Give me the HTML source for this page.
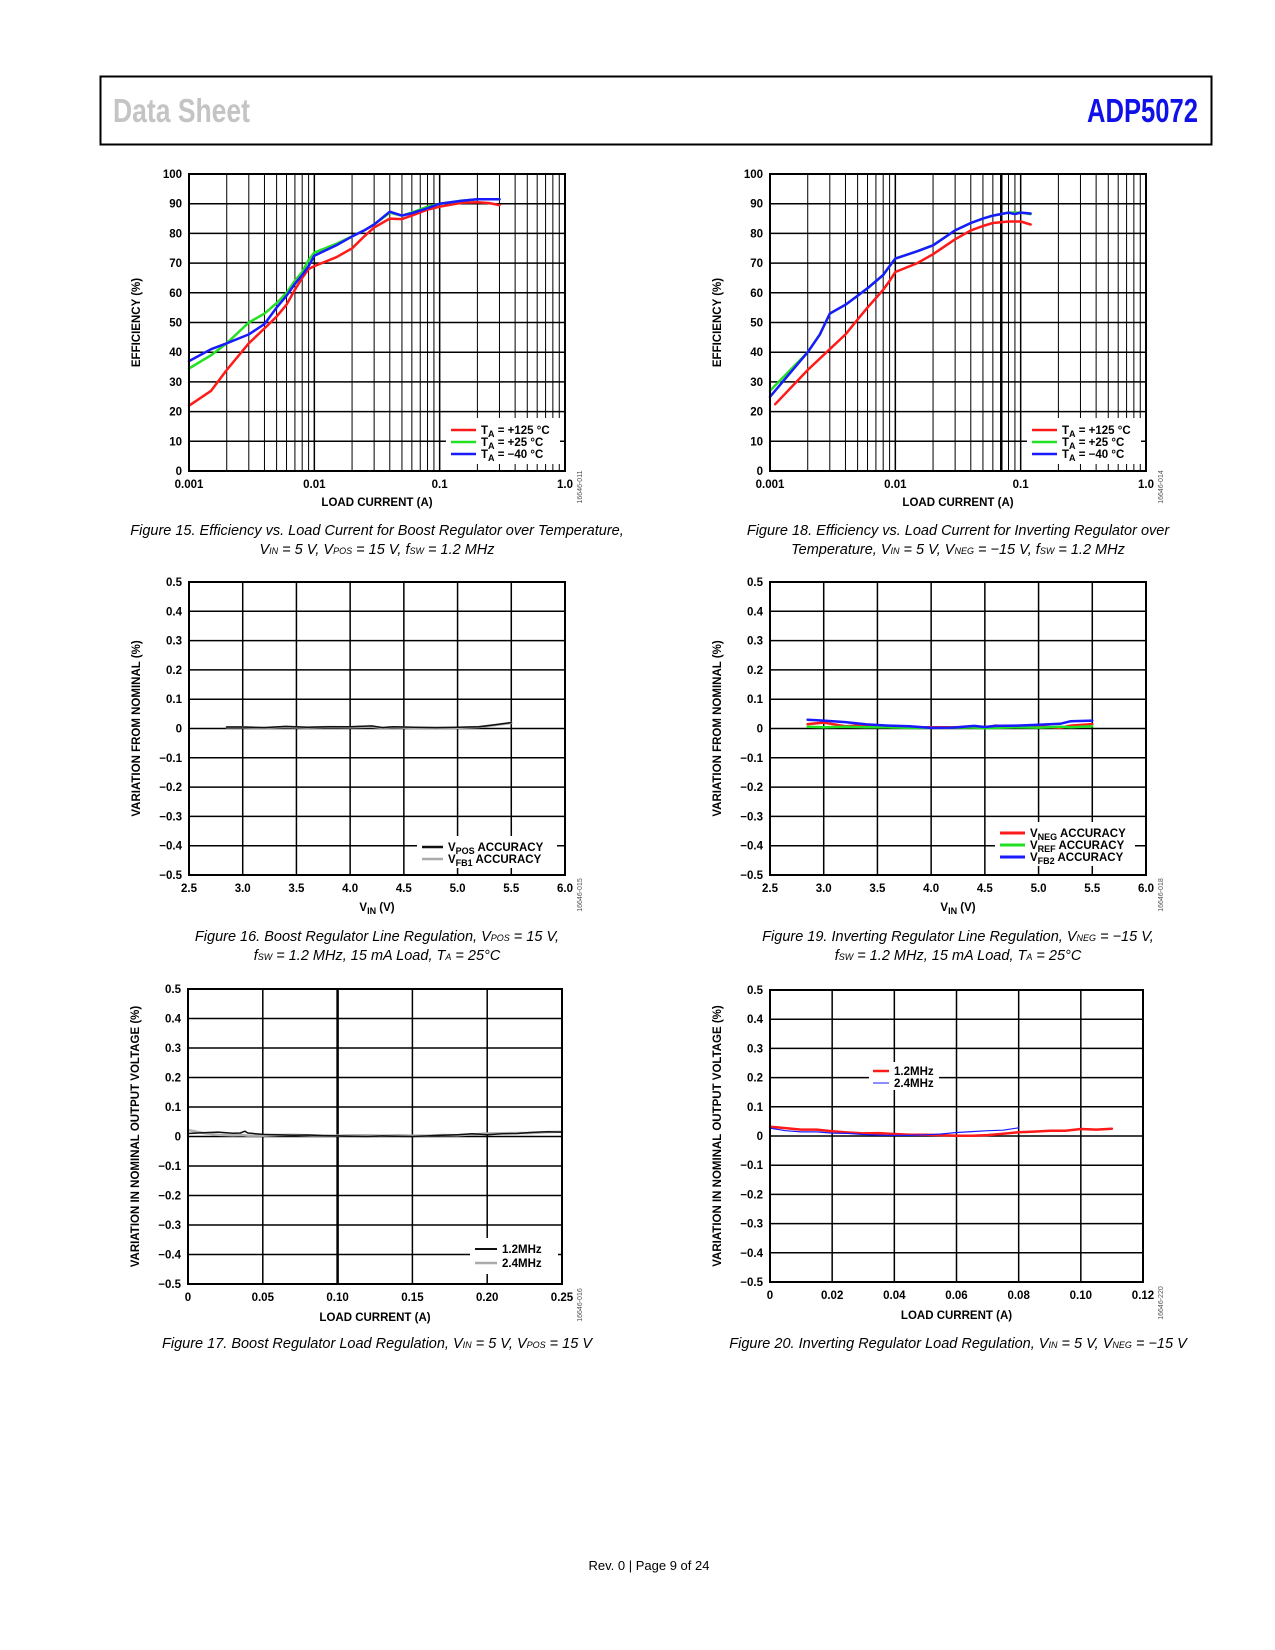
<!DOCTYPE html>
<html><head><meta charset="utf-8">
<style>
html,body{margin:0;padding:0;background:#fff;}
svg{display:block;}
text{font-family:"Liberation Sans",sans-serif;}
.t{font-weight:bold;font-size:11.5px;fill:#000;}
.cap{font-style:italic;font-size:14.5px;fill:#000;}
</style></head>
<body>
<svg id="page" xmlns="http://www.w3.org/2000/svg" width="1275" height="1650" viewBox="0 0 1275 1650">
<rect x="100.5" y="76.5" width="1111" height="68" fill="none" stroke="#000" stroke-width="2"/>
<text x="113" y="122" font-family="'Liberation Sans Narrow','Liberation Sans',sans-serif" font-weight="bold" font-size="33" fill="#c4c4c4" textLength="137" lengthAdjust="spacingAndGlyphs">Data Sheet</text>
<text x="1087" y="122" font-family="'Liberation Sans Narrow','Liberation Sans',sans-serif" font-weight="bold" font-size="33" fill="#1010e8" textLength="111" lengthAdjust="spacingAndGlyphs">ADP5072</text>

<text class="cap" x="377" y="535" text-anchor="middle">Figure 15. Efficiency vs. Load Current for Boost Regulator over Temperature,</text>
<text class="cap" x="377" y="554" text-anchor="middle">V<tspan font-size="9">IN</tspan> = 5 V, V<tspan font-size="9">POS</tspan> = 15 V, f<tspan font-size="9">SW</tspan> = 1.2 MHz</text>
<text class="cap" x="958" y="535" text-anchor="middle">Figure 18. Efficiency vs. Load Current for Inverting Regulator over</text>
<text class="cap" x="958" y="554" text-anchor="middle">Temperature, V<tspan font-size="9">IN</tspan> = 5 V, V<tspan font-size="9">NEG</tspan> = −15 V, f<tspan font-size="9">SW</tspan> = 1.2 MHz</text>
<text class="cap" x="377" y="941" text-anchor="middle">Figure 16. Boost Regulator Line Regulation, V<tspan font-size="9">POS</tspan> = 15 V,</text>
<text class="cap" x="377" y="960" text-anchor="middle">f<tspan font-size="9">SW</tspan> = 1.2 MHz, 15 mA Load, T<tspan font-size="9">A</tspan> = 25°C</text>
<text class="cap" x="958" y="941" text-anchor="middle">Figure 19. Inverting Regulator Line Regulation, V<tspan font-size="9">NEG</tspan> = −15 V,</text>
<text class="cap" x="958" y="960" text-anchor="middle">f<tspan font-size="9">SW</tspan> = 1.2 MHz, 15 mA Load, T<tspan font-size="9">A</tspan> = 25°C</text>
<text class="cap" x="377" y="1348" text-anchor="middle">Figure 17. Boost Regulator Load Regulation, V<tspan font-size="9">IN</tspan> = 5 V, V<tspan font-size="9">POS</tspan> = 15 V</text>
<text class="cap" x="958" y="1348" text-anchor="middle">Figure 20. Inverting Regulator Load Regulation, V<tspan font-size="9">IN</tspan> = 5 V, V<tspan font-size="9">NEG</tspan> = −15 V</text>
<text x="649" y="1570" text-anchor="middle" font-size="13" fill="#000">Rev. 0 | Page 9 of 24</text>
</svg>
<script>
// ---------- Figure 15 data ----------
const f15X = [0.001,0.0015,0.002,0.003,0.004,0.005,0.006,0.007,0.008,0.009,0.01,0.015,0.02,0.025,0.03,0.04,0.05,0.06,0.08,0.1,0.15,0.2,0.25,0.3];
const f15Red = [22,27,34,43,48,52,56,61,65,68,69,72,75,79,82,85,84.8,86,88,89,90.3,90.5,90.2,89.5];
const f15Green = [34.5,39,43,50,53,56.5,60,64,67,71,73.5,76.5,79,81,83,87,86,87,89,90,91,91.5,91.5,91.5];
const f15Blue = [37,41,43,46,49.5,55,59,63,66,69,72.5,76,79,81,83,87.3,86,86.8,88.5,90,91,91.5,91.5,91.5];
// ---------- Figure 18 data ----------
const f18XRed = [0.0011,0.002,0.003,0.004,0.005,0.006,0.008,0.009,0.01,0.015,0.02,0.03,0.04,0.05,0.06,0.08,0.1,0.12];
const f18Red = [22.5,34,41,46,51,55,61,64,67,70,73,78,81,82.5,83.5,84,84,83];
const f18X = [0.001,0.002,0.0025,0.003,0.004,0.005,0.006,0.008,0.009,0.01,0.015,0.02,0.03,0.04,0.05,0.06,0.08,0.09,0.1,0.12];
const f18Green = [27,40,46,53,56,59,61.5,66,69,71.5,74,76,81,83.5,85,86,87,87,87,86.5];
const f18Blue = [25,40,46,53,56,59,61.5,66,69,71.5,74,76,81,83.5,85,86,87,86.5,87,86.7];
const logTicks = ['0.001','0.01','0.1','1.0'];
const effTicks = [0,10,20,30,40,50,60,70,80,90,100];
// ---------- Figure 16 data ----------
const f16X = [2.85,3.0,3.2,3.4,3.6,3.8,4.0,4.2,4.3,4.4,4.6,4.8,5.0,5.2,5.35,5.5];
const f16Black = [0.005,0.005,0.003,0.007,0.004,0.006,0.006,0.009,0.003,0.006,0.004,0.003,0.004,0.006,0.013,0.02];
const f16Gray = [0.004,0.004,0.002,0.005,0.003,0.005,0.004,0.006,0.002,0.004,0.002,0.002,0.002,0.005,0.012,0.019];
// ---------- Figure 19 data ----------
const f19X = [2.85,3.0,3.2,3.4,3.6,3.8,4.0,4.2,4.4,4.5,4.6,4.8,5.0,5.2,5.3,5.5];
const f19Red = [0.015,0.02,0.008,0.012,0.008,0.004,0.004,0.004,0.005,0.004,0.01,0.006,0.008,0.002,0.01,0.015];
const f19Green = [0.006,0.004,0.006,0.004,0.004,0.002,0.002,0.003,0.003,0.001,0.002,0.004,0.003,0.006,0.004,0.008];
const f19Blue = [0.03,0.027,0.022,0.014,0.01,0.008,0.002,0.003,0.009,0.005,0.009,0.01,0.013,0.016,0.025,0.027];
const vinTicks = [2.5,3.0,3.5,4.0,4.5,5.0,5.5,6.0];
const pctTicks = [0.5,0.4,0.3,0.2,0.1,0,-0.1,-0.2,-0.3,-0.4,-0.5];
// ---------- Figure 17 data ----------
const f17X = [0,0.01,0.02,0.03,0.035,0.038,0.04,0.05,0.06,0.07,0.08,0.09,0.1,0.11,0.12,0.13,0.14,0.15,0.16,0.17,0.18,0.19,0.2,0.21,0.22,0.23,0.24,0.25];
const f17Black = [0.01,0.013,0.015,0.011,0.012,0.018,0.012,0.007,0.006,0.004,0.005,0.003,0.002,0.001,0.0,0.002,0.001,0.0,0.002,0.004,0.006,0.009,0.006,0.009,0.01,0.014,0.016,0.015];
const f17Gray = [0.022,0.012,0.006,0.004,0.005,0.004,0.003,0.003,0.005,0.006,0.004,0.003,0.003,0.004,0.004,0.003,0.004,0.003,0.003,0.005,0.004,0.007,0.01,0.011,0.012,0.012,0.015,0.016];
const f17Ticks = ['0','0.05','0.10','0.15','0.20','0.25'];
// ---------- Figure 20 data ----------
const f20XRed = [0,0.005,0.01,0.015,0.02,0.025,0.03,0.035,0.04,0.045,0.05,0.055,0.06,0.065,0.07,0.075,0.08,0.085,0.09,0.095,0.1,0.105,0.11];
const f20Red = [0.032,0.027,0.022,0.022,0.016,0.012,0.009,0.01,0.007,0.004,0.004,0.003,0.001,0.001,0.003,0.008,0.013,0.015,0.018,0.018,0.024,0.022,0.025];
const f20XBlue = [0,0.005,0.01,0.015,0.02,0.025,0.03,0.035,0.04,0.045,0.05,0.055,0.06,0.065,0.07,0.075,0.08];
const f20Blue = [0.027,0.018,0.014,0.014,0.01,0.009,0.005,0.003,0.002,0.002,0.004,0.007,0.012,0.015,0.018,0.02,0.028];
const f20Ticks = ['0','0.02','0.04','0.06','0.08','0.10','0.12'];

const NS='http://www.w3.org/2000/svg';
const page=document.getElementById('page');
function mk(tag,attrs,parent){const e=document.createElementNS(NS,tag);for(const k in attrs)e.setAttribute(k,attrs[k]);(parent||page).appendChild(e);return e;}

function makeAxes(c){
  const g=mk('g',{});
  
  
  c.g=g;
  return g;
}
function gridV(c,x,w){const l=mk('line',{x1:x,x2:x,y1:c.top,y2:c.bot,stroke:'#000','stroke-width':w||1},c.g);}
function gridH(c,y,w){const l=mk('line',{x1:c.left,x2:c.right,y1:y,y2:y,stroke:'#000','stroke-width':w||1},c.g);}
function frame(c){const r=mk('rect',{x:c.left,y:c.top,width:c.right-c.left,height:c.bot-c.top,fill:'none',stroke:'#000','stroke-width':2},c.g);}
function label(c,x,y,txt,anchor,name){const t=mk('text',{x:x,y:y,'text-anchor':anchor,class:'t'},c.g);t.textContent=txt;return t;}
function series(c,xs,ys,color,w,name){
  const pts=xs.map((x,i)=>c.sx(x).toFixed(1)+','+c.sy(ys[i]).toFixed(1)).join(' ');
  const p=mk('polyline',{points:pts,fill:'none',stroke:color,'stroke-width':w,'stroke-linejoin':'round','stroke-linecap':'round'},c.g);
  
  
}
function yTitle(c,x,txt,name){const cy=(c.top+c.bot)/2;const t=mk('text',{x:x,y:cy,'text-anchor':'middle',class:'t',transform:'rotate(-90 '+x+' '+cy+')'},c.g);t.textContent=txt;}
function idTag(c,x,y,txt){const t=mk('text',{x:x,y:y,'text-anchor':'middle','font-size':'7',fill:'#555',transform:'rotate(-90 '+x+' '+y+')'},c.g);t.textContent=txt;}
function legendBox(c,x,y,w,h){const r=mk('rect',{x:x,y:y,width:w,height:h,fill:'#fff'},c.g);}
function legendEntry(c,x1,x2,y,color,w,html,name){
  const l=mk('line',{x1:x1,x2:x2,y1:y,y2:y,stroke:color,'stroke-width':w},c.g);
  
  
  const t=mk('text',{x:x2+5,y:y+4,class:'t'},c.g);
  t.innerHTML=html;
  
  
}
const ta=v=>'T<tspan dy="3" font-size="9">A</tspan><tspan dy="-3"> = '+v+' °C</tspan>';

function effChart(left,right,name,id,heavy){
  const c={left:left,right:right,top:174,bot:471};
  c.sx=v=>left+(Math.log10(v)+3)/3*(right-left);
  c.sy=v=>c.bot-v/100*(c.bot-c.top);
  makeAxes(c);
  for(let d=-3;d<0;d++)for(let m=2;m<=9;m++)gridV(c,c.sx(m*Math.pow(10,d)),1);
  gridV(c,c.sx(0.01),1.5);gridV(c,c.sx(0.1),1.5);
  if(heavy)gridV(c,c.sx(heavy),2.5);
  effTicks.forEach(v=>{if(v>0&&v<100)gridH(c,c.sy(v),1.5);label(c,left-7,c.sy(v)+4,String(v),'end','y-tick-label');});
  logTicks.forEach((s,i)=>label(c,c.sx(Math.pow(10,i-3)),c.bot+17,s,'middle','x-tick-label'));
  yTitle(c,left-49,'EFFICIENCY (%)','y-axis-title');
  label(c,(left+right)/2,c.bot+35,'LOAD CURRENT (A)','middle','x-axis-title');
  idTag(c,right+17,c.bot+16,id);
  return c;
}
const c15=effChart(189,565,'chart-fig15-boost-efficiency','16646-011');
series(c15,f15X,f15Red,'#ff1a1a',2.5,'series-ta-125c');
series(c15,f15X,f15Green,'#22e022',2.5,'series-ta-25c');
series(c15,f15X,f15Blue,'#1a1aff',2.5,'series-ta-minus40c');
legendBox(c15,446,418,114,46);
legendEntry(c15,451,476,430,'#ff1a1a',2.5,ta('+125'),'legend-ta-125c');
legendEntry(c15,451,476,442,'#22e022',2.5,ta('+25'),'legend-ta-25c');
legendEntry(c15,451,476,454,'#1a1aff',2.5,ta('−40'),'legend-ta-minus40c');
frame(c15);

const c18=effChart(770,1146,'chart-fig18-inverting-efficiency','16646-014',0.07);
series(c18,f18XRed,f18Red,'#ff1a1a',2.5,'series-ta-125c');
series(c18,f18X,f18Green,'#22e022',2.5,'series-ta-25c');
series(c18,f18X,f18Blue,'#1a1aff',2.5,'series-ta-minus40c');
legendBox(c18,1027,418,114,46);
legendEntry(c18,1032,1057,430,'#ff1a1a',2.5,ta('+125'),'legend-ta-125c');
legendEntry(c18,1032,1057,442,'#22e022',2.5,ta('+25'),'legend-ta-25c');
legendEntry(c18,1032,1057,454,'#1a1aff',2.5,ta('−40'),'legend-ta-minus40c');
frame(c18);

function lineChart(left,right,name,id){
  const c={left:left,right:right,top:582,bot:875};
  c.sx=v=>left+(v-2.5)/3.5*(right-left);
  c.sy=v=>c.bot-(v+0.5)/1*(c.bot-c.top);
  makeAxes(c);
  vinTicks.forEach(v=>{if(v>2.5&&v<6)gridV(c,c.sx(v),1.5);label(c,c.sx(v),c.bot+17,v.toFixed(1),'middle','x-tick-label');});
  pctTicks.forEach(v=>{if(Math.abs(v)<0.5)gridH(c,c.sy(v),1.5);label(c,left-7,c.sy(v)+4,v===0?'0':(v<0?'−':'')+Math.abs(v).toFixed(1),'end','y-tick-label');});
  yTitle(c,left-49,'VARIATION FROM NOMINAL (%)','y-axis-title');
  const t=label(c,(left+right)/2,c.bot+36,'','middle','x-axis-title');
  t.innerHTML='V<tspan dy="3" font-size="9">IN</tspan><tspan dy="-3"> (V)</tspan>';
  idTag(c,right+17,c.bot+20,id);
  return c;
}
const c16=lineChart(189,565,'chart-fig16-boost-line-regulation','16646-015');
series(c16,f16X,f16Gray,'#aaaaaa',2.5,'series-vfb1-accuracy');
series(c16,f16X,f16Black,'#111111',1.5,'series-vpos-accuracy');
legendBox(c16,417,836,140,32);
legendEntry(c16,422,443,847,'#111',2.5,'V<tspan dy="3" font-size="9">POS</tspan><tspan dy="-3"> ACCURACY</tspan>','legend-vpos-accuracy');
legendEntry(c16,422,443,859,'#aaa',2.5,'V<tspan dy="3" font-size="9">FB1</tspan><tspan dy="-3"> ACCURACY</tspan>','legend-vfb1-accuracy');
frame(c16);

const c19=lineChart(770,1146,'chart-fig19-inverting-line-regulation','16646-018');
series(c19,f19X,f19Red,'#ff1a1a',2.5,'series-vneg-accuracy');
series(c19,f19X,f19Green,'#22e022',2.5,'series-vref-accuracy');
series(c19,f19X,f19Blue,'#1a1aff',2.5,'series-vfb2-accuracy');
legendBox(c19,995,822,140,44);
legendEntry(c19,1000,1025,833,'#ff1a1a',3,'V<tspan dy="3" font-size="9">NEG</tspan><tspan dy="-3"> ACCURACY</tspan>','legend-vneg-accuracy');
legendEntry(c19,1000,1025,845,'#22e022',3,'V<tspan dy="3" font-size="9">REF</tspan><tspan dy="-3"> ACCURACY</tspan>','legend-vref-accuracy');
legendEntry(c19,1000,1025,857,'#1a1aff',3,'V<tspan dy="3" font-size="9">FB2</tspan><tspan dy="-3"> ACCURACY</tspan>','legend-vfb2-accuracy');
frame(c19);

function loadChart(left,right,top,bot,xmax,ticks,name,id,heavyAt){
  const c={left:left,right:right,top:top,bot:bot};
  c.sx=v=>left+v/xmax*(right-left);
  c.sy=v=>c.bot-(v+0.5)*(c.bot-c.top);
  makeAxes(c);
  ticks.forEach(s=>{const v=parseFloat(s);if(v>0&&v<xmax-1e-9)gridV(c,c.sx(v),Math.abs(v-heavyAt)<1e-9?2.5:1.5);label(c,c.sx(v),c.bot+17,s,'middle','x-tick-label');});
  pctTicks.forEach(v=>{if(Math.abs(v)<0.5)gridH(c,c.sy(v),1.5);label(c,left-7,c.sy(v)+4,v===0?'0':(v<0?'−':'')+Math.abs(v).toFixed(1),'end','y-tick-label');});
  yTitle(c,left-49,'VARIATION IN NOMINAL OUTPUT VOLTAGE (%)','y-axis-title');
  label(c,(left+right)/2,c.bot+37,'LOAD CURRENT (A)','middle','x-axis-title');
  idTag(c,right+20,c.bot+21,id);
  return c;
}
const c17=loadChart(188,562,989,1284,0.25,f17Ticks,'chart-fig17-boost-load-regulation','16646-016',0.1);
series(c17,f17X,f17Gray,'#b0b0b0',2.5,'series-2-4mhz');
series(c17,f17X,f17Black,'#111111',1.5,'series-1-2mhz');
legendBox(c17,470,1238,88,36);
legendEntry(c17,475,497,1249,'#111',2,'1.2MHz','legend-1-2mhz');
legendEntry(c17,475,497,1263,'#aaa',2.5,'2.4MHz','legend-2-4mhz');
frame(c17);

const c20=loadChart(770,1143,990,1282,0.12,f20Ticks,'chart-fig20-inverting-load-regulation','16646-220',-1);
series(c20,f20XRed,f20Red,'#ff1a1a',2.5,'series-1-2mhz');
series(c20,f20XBlue,f20Blue,'#1a1aff',1.2,'series-2-4mhz');
legendBox(c20,869,1062,70,28);
legendEntry(c20,873,889,1071,'#ff1a1a',2.5,'1.2MHz','legend-1-2mhz');
legendEntry(c20,873,889,1083,'#1a1aff',1,'2.4MHz','legend-2-4mhz');
frame(c20);
</script>
</body></html>
